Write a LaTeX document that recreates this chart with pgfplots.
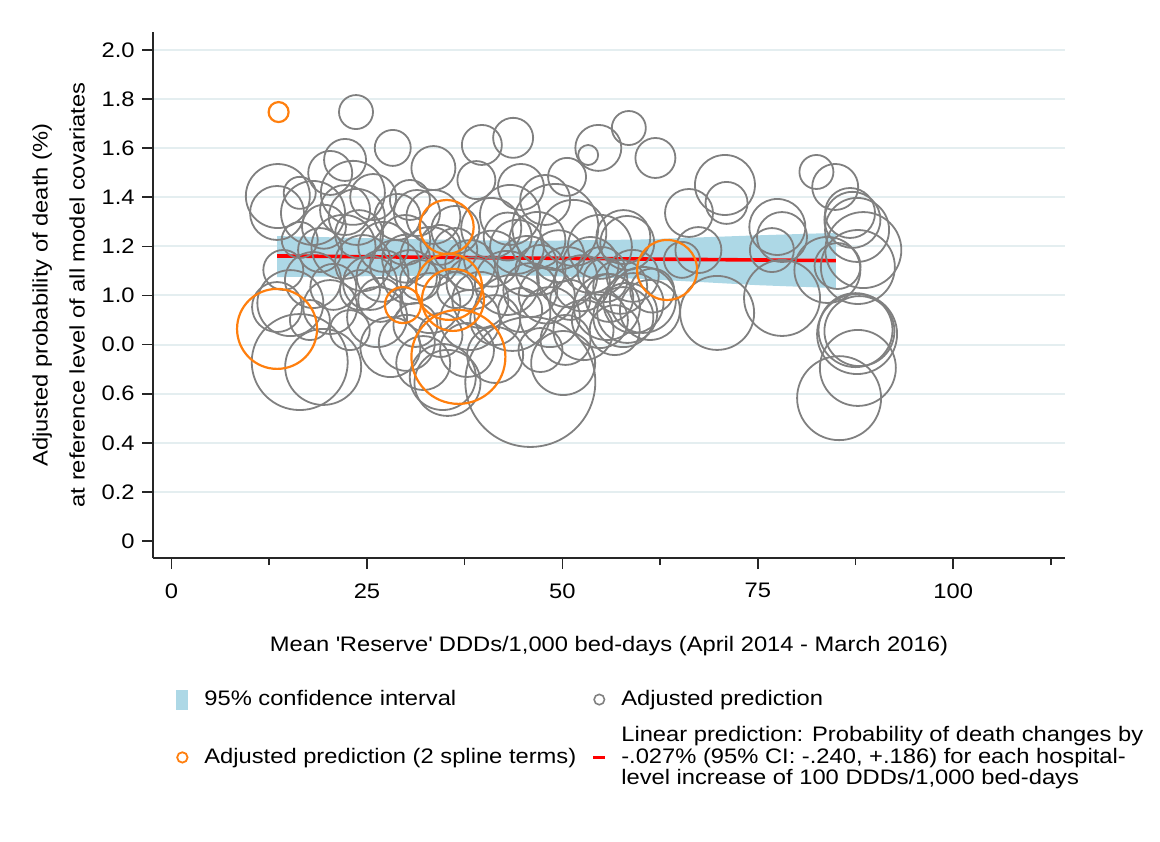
\documentclass[border=0pt]{standalone}
\usepackage{fontspec}
\setmainfont{Liberation Sans}[FakeStretch=1.13]
\usepackage{pgfplots}
\usepackage{pgfplotstable}
\pgfplotsset{compat=1.18}

\definecolor{circgray}{RGB}{128,128,128}
\definecolor{splorange}{RGB}{255,127,14}
\definecolor{ciblue}{RGB}{173,216,230}
\definecolor{gridc}{RGB}{228,238,240}
\definecolor{linred}{RGB}{255,0,0}

% hospital-level adjusted predictions: x, y, circle radius (pt)
\pgfplotstableread{
x y r
23.6 1.747 8.5
28.3 1.601 9
22.2 1.552 10.5
33.5 1.519 11
39.7 1.613 10
43.7 1.642 10
39.0 1.470 9.5
44.7 1.442 11.5
50.6 1.483 9.5
54.6 1.601 11.5
53.3 1.572 5
58.5 1.682 8.5
61.9 1.560 10
13.6 1.405 16
13.5 1.336 13.5
16.4 1.418 8
20.3 1.499 11
18.1 1.336 16
23.2 1.418 16
25.8 1.401 11.5
22.2 1.348 12.5
28.9 1.320 11.5
31.4 1.336 11.5
30.5 1.389 10
23.7 1.320 14
14.3 1.104 10
15.2 0.969 16.5
18.1 1.063 14
20.3 0.953 13.5
16.4 0.729 24
19.4 0.709 19
24.5 1.132 14
22.0 1.198 16
27.1 1.198 12.5
25.4 1.051 13.5
26.3 0.912 15
28.0 0.790 15
30.1 0.807 14
30.5 1.075 13.5
33.1 1.157 15
33.5 1.320 13.5
34.7 0.668 16.5
32.2 0.725 13.5
33.1 0.969 15
13.5 0.953 12.5
20.7 1.035 11.5
40.9 1.275 15
44.2 1.198 13.5
46.8 1.226 14
51.4 1.255 16.5
49.1 1.279 21.5
54.8 1.198 16
58.3 1.214 13.5
42.9 1.051 16
45.9 1.022 13.5
50.6 1.075 15
48.4 0.912 15
43.6 0.929 19
52.7 0.859 15
57.8 0.912 15
59.1 0.969 15
55.7 0.953 16.5
50.1 0.725 16
45.9 0.648 32.5
35.3 0.644 16.5
37.8 0.778 13.5
60.3 0.982 16.5
61.2 0.941 15
58.3 0.929 15
57.4 1.035 13.5
57.8 1.238 13.5
70.8 1.450 15
71.0 1.377 10.5
66.2 1.336 12
67.4 1.185 11.5
65.3 1.145 9
69.8 0.929 18.5
77.5 1.279 14
78.1 1.238 12.5
76.8 1.185 11
78.1 0.990 19
82.5 1.503 8.5
84.9 1.442 11.5
87.1 1.308 14
87.7 1.267 16
88.5 1.185 19
87.8 1.116 18.5
83.9 1.104 16.5
85.2 1.120 11.5
87.5 0.859 18.5
87.7 0.843 20
88.0 0.855 17.5
87.8 0.705 19
85.4 0.582 21
86.8 1.336 12.5
38.2 1.124 12.5
36.3 1.185 11
39.5 0.982 14
41.4 0.900 12.5
38.2 0.900 15
47.2 1.104 12.5
53.6 1.124 14
55.5 1.063 11
51.0 0.982 10
44.6 0.941 11
28.6 1.124 12.5
31.8 1.063 10
36.3 1.022 9
34.4 0.839 11
22.8 0.859 10
36.3 1.267 12
43.3 1.328 15
47.8 1.389 12.5
34.4 1.206 10
29.9 1.226 12.5
19.0 1.185 11
16.4 1.226 9
24.1 1.022 10
17.7 0.900 10
54.8 0.900 14
56.7 0.859 12.5
50.4 0.819 12.5
47.2 0.778 11
41.4 0.758 14
31.2 0.880 11
26.7 0.982 11
41.0 1.150 14
45.5 1.120 15
49.5 1.160 13
52.5 1.050 14
55.0 1.100 12
59.0 1.080 13
38.5 1.050 13
30.0 1.150 12
27.0 1.080 13
24.0 1.250 12
19.5 1.280 11
43.0 1.240 12
56.0 0.990 12
61.5 1.020 11
48.0 1.000 14
}\graydata

% adjusted prediction with 2 spline terms
\pgfplotstableread{
x y r
13.7 1.747 5
13.5 0.864 20
35.2 1.279 13.5
29.6 0.961 9
35.5 1.035 16.5
36.0 0.982 15.5
36.7 0.750 23.5
63.4 1.104 15
}\splinedata

\begin{document}
\fontsize{10.5}{10.75}\selectfont
\begin{tikzpicture}
\useasboundingbox (0,0) rectangle (580pt,420.5pt);
\begin{axis}[
  at={(76.5pt,141.5pt)}, anchor=south west,
  scale only axis, width=456pt, height=263pt,
  xmin=-2.37, xmax=114.3, ymin=-0.069, ymax=2.073,
  axis x line*=bottom, axis y line*=left,
  axis line style={-, line width=0.9pt, black!85},
  tick align=outside,
  major tick length=5.5pt, minor tick length=3.5pt,
  tick style={black!85, line width=0.8pt},
  xtick={0,25,50,75,100},
  minor xtick={12.5,37.5,62.5,87.5,112.5},
  ytick={0.2,0.4,0.6,0.8,1.0,1.2,1.4,1.6,1.8,2.0},
  yticklabels={0.2,0.4,0.6,0.0,1.0,1.2,1.4,1.6,1.8,2.0},
  extra y ticks={0}, extra y tick labels={0},
  extra y tick style={grid=none},
  ymajorgrids=true,
  grid style={gridc, line width=1pt},
  /pgf/number format/assume math mode=true,
  tick label style={font=\fontsize{10.5}{12}\selectfont, black},
  xticklabel style={yshift=-3.5pt},
  label style={font=\fontsize{10.5}{12}\selectfont, black},
  xlabel={Mean \textquotesingle Reserve\textquotesingle\ DDDs/1,000 bed-days (April 2014 - March 2016)},
  xlabel style={at={(axis description cs:0.5,-0.1673)}, anchor=center},
  ylabel={Adjusted probability of death (\%)\\at reference level of all model covariates},
  ylabel style={at={(axis description cs:-0.1036,0.5)}, anchor=center, align=center,
    font=\fontsize{10.5}{18.5}\selectfont},
  legend columns=2,
  legend cell align=left,
  legend style={at={(axis description cs:0.0186,-0.2433)}, anchor=north west,
    draw=none, fill=none, inner sep=0pt, row sep=5pt,
    cells={align=left},
    font=\fontsize{10.5}{10.75}\selectfont,
    /tikz/every odd column/.append style={column sep=3pt},
    /tikz/every even column/.append style={column sep=3.5pt}},
]
\addplot[fill=ciblue, draw=none,
  legend image code/.code={\path[draw=none, fill=none] (-6pt,-5pt) rectangle (6pt,5pt);
    \fill[ciblue] (-3pt,-5pt) rectangle (3pt,5pt);}]
  coordinates {(13.5,1.242) (30,1.230) (45,1.222) (60,1.228) (75,1.245) (85,1.255)
               (85,1.030) (75,1.042) (60,1.068) (45,1.082) (30,1.080) (13.5,1.075)} -- cycle;
\addplot[scatter, only marks, mark=o,
  mark options={line width=0.9pt},
  scatter/use mapped color={draw=circgray},
  visualization depends on={\thisrow{r}\as\rad},
  scatter/@pre marker code/.append style={/tikz/mark size=\rad},
  legend image code/.code={\path[draw=none, fill=none] (-6pt,-5pt) rectangle (6pt,5pt);
    \draw[circgray, line width=0.8pt] (0,0) circle (2.6pt);}]
  table[x=x, y=y] {\graydata};
\addplot[scatter, only marks, mark=o,
  mark options={line width=1.1pt},
  scatter/use mapped color={draw=splorange},
  visualization depends on={\thisrow{r}\as\rad},
  scatter/@pre marker code/.append style={/tikz/mark size=\rad},
  legend image code/.code={\path[draw=none, fill=none] (-6pt,-5pt) rectangle (6pt,5pt);
    \draw[splorange, line width=0.9pt] (0,0) circle (2.6pt);}]
  table[x=x, y=y] {\splinedata};
\addplot[linred, line width=1.8pt, no marks,
  legend image code/.code={\path[draw=none, fill=none] (-6pt,-5pt) rectangle (6pt,5pt);
    \draw[linred, line width=1.8pt] (-3pt,0) -- (3pt,0);}]
  coordinates {(13.5,1.161) (85,1.142)};
\legend{95\% confidence interval, Adjusted prediction,
  Adjusted prediction (2 spline terms),
  {Linear prediction: Probability of death changes by\\-.027\% (95\% CI: -.240, +.186) for each hospital-\\level increase of 100 DDDs/1,000 bed-days}}
\end{axis}
\end{tikzpicture}
\end{document}
